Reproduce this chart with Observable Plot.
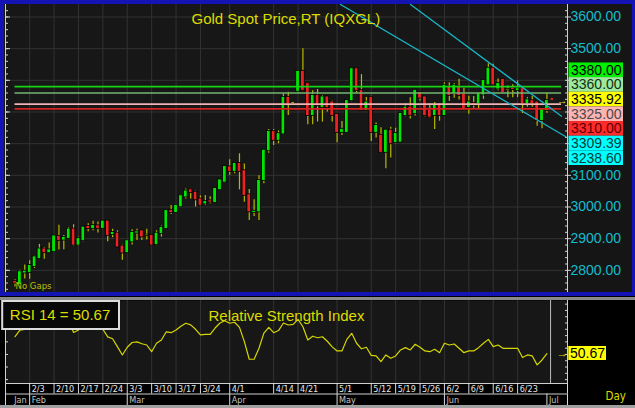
<!DOCTYPE html>
<html><head><meta charset="utf-8">
<script src="https://cdn.jsdelivr.net/npm/d3@7"></script>
<script src="https://cdn.jsdelivr.net/npm/@observablehq/plot@0.6"></script>
<style>
html,body{margin:0;padding:0;background:#000;}
#chart{position:relative;width:635px;height:408px;overflow:hidden;background:#000;}
#chart > div{position:absolute;left:0;}
svg{display:block;}
</style></head><body>
<div id="chart">
  <div id="price" style="top:0"></div>
  <div id="rsi" style="top:296px"></div>
  <div style="top:0;width:635px;height:296px;border:4px solid #1414b4;border-right-width:3px;box-sizing:border-box;"></div>
  <div style="top:297px;width:635px;height:3px;background:#8a8a8a"></div>
  <div style="top:405px;width:635px;height:3px;background:#a0a0a0"></div>
</div>
<script>
// ---------------- data ----------------
const firstDay = "2025-01-29", lastDay = "2025-07-01";
const open  = [2764,2756,2792,2794,2812,2838,2867,2856,2860,2906,2896,2901,2930,2880,2895,2938,2932,2940,2933,2955,2913,2917,2876,2856,2890,2918,2924,2910,2910,2882,2917,2932,2989,2983,3001,3032,3054,3046,3025,3010,3019,3015,3055,3079,3126,3113,3137,3114,3038,2983,2985,3084,3178,3238,3211,3231,3346,3328,3366,3428,3389,3289,3352,3315,3347,3331,3292,3236,3236,3336,3436,3368,3305,3345,3236,3226,3173,3242,3204,3205,3289,3315,3295,3361,3347,3305,3289,3320,3289,3378,3358,3378,3357,3315,3326,3326,3354,3386,3438,3373,3402,3370,3375,3368,3373,3326,3335,3331,3273,3305];
const high  = [2770,2800,2817,2830,2845,2882,2872,2886,2911,2942,2910,2935,2944,2905,2936,2947,2955,2953,2957,2957,2930,2925,2880,2896,2928,2930,2926,2930,2913,2925,2940,2990,3005,3006,3038,3057,3057,3050,3035,3036,3032,3060,3087,3128,3149,3140,3168,3136,3055,3023,3099,3180,3245,3245,3240,3357,3362,3332,3430,3500,3392,3367,3371,3352,3349,3335,3294,3270,3337,3438,3438,3418,3346,3350,3265,3250,3244,3252,3249,3296,3325,3345,3368,3365,3350,3325,3330,3325,3392,3392,3390,3403,3375,3350,3349,3360,3402,3452,3451,3404,3405,3382,3386,3398,3373,3346,3350,3334,3310,3358];
const low   = [2747,2752,2773,2772,2806,2834,2835,2853,2857,2864,2865,2898,2876,2876,2890,2922,2925,2918,2930,2890,2903,2873,2832,2853,2880,2894,2894,2896,2878,2878,2905,2930,2976,2980,2998,3025,3025,3000,3002,3005,3010,3013,3053,3076,3100,3105,3054,3015,2957,2970,2957,3073,3170,3194,3200,3228,3289,3326,3360,3366,3260,3260,3268,3268,3300,3268,3203,3226,3234,3332,3360,3303,3303,3207,3218,3170,3121,3155,3200,3204,3285,3278,3287,3335,3285,3280,3245,3271,3289,3333,3343,3338,3306,3293,3312,3310,3340,3385,3383,3367,3362,3345,3345,3346,3295,3315,3315,3255,3247,3296];
const close = [2760,2795,2797,2815,2842,2867,2856,2864,2908,2895,2903,2930,2880,2900,2936,2932,2941,2933,2955,2911,2919,2874,2855,2893,2919,2921,2906,2911,2880,2917,2935,2988,2983,3004,3035,3050,3046,3023,3006,3017,3016,3058,3085,3127,3113,3137,3113,3037,2985,2986,3083,3179,3238,3211,3231,3346,3326,3330,3428,3369,3289,3352,3320,3347,3315,3289,3236,3245,3336,3436,3368,3305,3331,3236,3257,3173,3242,3200,3232,3295,3315,3290,3368,3344,3289,3284,3320,3289,3384,3352,3384,3352,3310,3331,3322,3357,3399,3438,3386,3389,3362,3371,3371,3373,3326,3338,3326,3273,3310,3336];
const rsi14 = [64.1,69.4,70,72,75,77,75,75,78,75, 76,77,67.5,69.5,73,72,74,72,70,64, 62.5,56,49.6,55.7,59.5,60,58.5,57.5,52.2,58.9, 61.5,68,67.3,69.5,72.5,74.8,73.5,70,65.5,66, 66,71,75,76.8,74.8,75.6,71.5,60.2,46.2,46.2, 54.9,67,71.6,67.3,69,75,73.4,73.9,77.9,72, 61.5,64.5,63.3,64.1,60.5,56,52.8,52.8,62,66.8, 58.9,54.5,55.7,49.3,48.8,44.3,49.6,47,48.8,53.6, 55.4,53.6,58.1,55.7,52.8,52.2,54.1,51.4,58.9,57.5, 58.3,54.9,51.4,52.8,52.8,55.4,58.9,62,56.2,57.5, 54.9,54.9,54.9,54.9,47.5,49.6,48.8,41.7,45.6,50.67];
const weekTicks = ["2/3","2/10","2/17","2/24","3/3","3/10","3/17","3/24","4/1","4/14","4/21","5/1","5/12","5/19","5/26","6/2","6/9","6/16","6/23"];
const monthNames = ["Jan","Feb","Mar","Apr","May","Jun","Jul"];
const priceTicks = [2800,2900,3000,3100,3200,3300,3400,3500,3600];
const priceTickLabels = [2800,2900,3000,3100,3500,3600];
const rsiTicks = [30,40,50,60,70];
const levelValues = [3380, 3360, 3325, 3310];
const levelColors = ["#14d414", "#72b872", "#f0b4b4", "#d42222"];
const sideLabels = ["3380.00","3360.00","3335.92","3325.00","3310.00","3309.39","3238.60"];
const sideFill   = ["#00f000","#9ee89e","#ffff00","#ffb4b4","#ff2a2a","#00ffff","#00ffff"];
const sideInk    = ["#000","#123012","#000","#4a4a4a","#5a0000","#003c3c","#003c3c"];
const upperChannel = {i: [81.05, 112.0], p: [3639.4, 3286.7]};
const lowerChannel = {i: [66.7, 112.8], p: [3639.4, 3222.6]};
const lastPrice = 3335.92, lastRsi = 50.67;
const titleText = "Gold Spot Price,RT (IQXGL)";
const rsiTitle = "Relative Strength Index";
const rsiBoxText = "RSI 14 = 50.67";

// ---------------- setup ----------------
const W = 635;
const SANS = "'Liberation Sans', Arial, sans-serif";
const NARROW = "'Liberation Sans Narrow', 'Arial Narrow', 'DejaVu Sans Condensed', sans-serif";
const YEL = "#dcdc00", CYAN = "#12bccc", GRID = "#323232", AX = "#d0d0d0";

const days = d3.utcDay.range(new Date(firstDay), d3.utcDay.offset(new Date(lastDay), 1))
  .filter(d => d.getUTCDay() !== 0 && d.getUTCDay() !== 6);
const fmt = d3.utcFormat("%-m/%-d");
const idxOf = s => days.findIndex(d => fmt(d) === s);
const n = days.length, lastIdx = n - 1;
const candles = days.map((d, i) => ({i, o: open[i], h: high[i], l: low[i], c: close[i]}));
const weeks = weekTicks.map(t => ({t, i: idxOf(t)}));
const monthStarts = monthNames.map((m, k) => days.findIndex(d => d.getUTCMonth() === k));

const xDomain = [-1.95, 113.22];
const yDomain = [2730, 3639.4];
const rsiDomain = [26.9, 92.9];
const xS = Plot.scale({x: {domain: xDomain, range: [5, 567]}});
const yS = Plot.scale({y: {domain: yDomain, range: [292, 4]}});
const rS = Plot.scale({y: {domain: rsiDomain, range: [87, 4]}});

const bodyColor = d => Math.abs(d.c - d.o) <= 2 ? "#c8c800" : d.c >= d.o ? "#00e600" : "#ec2222";
const levels = levelValues.map((v, k) => ({v, color: levelColors[k]}));
const chan = ch => ch.i.map((i, k) => ({i, p: ch.p[k]}));

// stacked right-hand labels
const boxH = 14.65, boxTop = yS.apply(3380) - 23.7;
const side = sideLabels.map((t, k) => ({
  t, fill: sideFill[k], ink: sideInk[k],
  y1: yS.invert(boxTop + k * boxH), y2: yS.invert(boxTop + (k + 1) * boxH),
  ym: yS.invert(boxTop + (k + 0.5) * boxH)
}));

// ---------------- price panel ----------------
const price = Plot.plot({
  width: W, height: 296,
  marginLeft: 5, marginRight: 68, marginTop: 4, marginBottom: 4,
  style: {background: "#151515", overflow: "visible"},
  x: {domain: xDomain, axis: null},
  y: {domain: yDomain, axis: null},
  color: {type: "identity"},
  marks: [
    Plot.frame({fill: "#171717", stroke: null}),
    Plot.gridY(priceTicks, {stroke: GRID, strokeOpacity: 1}),
    Plot.gridX(weeks.map(d => d.i), {stroke: GRID, strokeOpacity: 1}),
    Plot.ruleX(candles, {x: "i", y1: "l", y2: "h", stroke: "#b8b800", strokeWidth: 1.2}),
    Plot.rect(candles, {x1: d => d.i - 0.37, x2: d => d.i + 0.37,
      y1: d => Math.min(d.o, d.c), y2: d => Math.max(d.o, d.c),
      fill: bodyColor, stroke: "#000", strokeWidth: 0.8, insetTop: -0.6, insetBottom: -0.6}),
    Plot.ruleY(levels, {y: "v", x1: 0, x2: n + 2, stroke: "color", strokeWidth: 1.7}),
    Plot.line(chan(upperChannel), {x: "i", y: "p", stroke: "#18b4c4", strokeWidth: 1.3, clip: true}),
    Plot.line(chan(lowerChannel), {x: "i", y: "p", stroke: "#18b4c4", strokeWidth: 1.3, clip: true}),
    Plot.dot([lastPrice], {x: lastIdx + 1, y: d => d + 5, r: 1.3, fill: "#e02020"}),
    Plot.text(["→"], {x: lastIdx + 2, y: lastPrice, textAnchor: "start", fill: YEL, fontSize: 11, fontWeight: "bold", fontFamily: SANS}),
    // left axis
    Plot.ruleX([xDomain[0]], {stroke: AX}),
    Plot.axisY(d3.range(2740, 3640, 20), {anchor: "left", tickSize: -3, fill: "none", stroke: AX, label: null}),
    Plot.axisY(priceTicks, {anchor: "left", tickSize: -5, fill: "none", stroke: AX, label: null}),
    // right axis
    Plot.ruleX([xDomain[1]], {stroke: AX}),
    Plot.axisY(d3.range(2740, 3640, 20), {anchor: "right", tickSize: -3, fill: "none", stroke: AX, label: null}),
    Plot.axisY(priceTicks, {anchor: "right", tickSize: 3, fill: "none", stroke: AX, label: null}),
    Plot.axisY(priceTickLabels, {anchor: "right", tickSize: 0, tickPadding: 3, fill: CYAN, fontSize: 14,
      fontFamily: SANS, tickFormat: d => d.toFixed(2), textAnchor: "start", label: null}),
    // stacked value labels
    Plot.rect(side, {x1: xS.invert(568.5), x2: xS.invert(623), y1: "y1", y2: "y2", fill: "fill"}),
    Plot.text(side, {x: xS.invert(570.5), y: "ym", text: "t", fill: "ink", textAnchor: "start", fontSize: 14, fontFamily: SANS}),
    // titles
    Plot.text([titleText], {frameAnchor: "top-left", dx: 186, dy: 8.5, textAnchor: "start", fill: YEL, fontSize: 15, fontFamily: SANS}),
    Plot.text(["No Gaps"], {frameAnchor: "bottom-left", dx: 10, dy: -3.5, textAnchor: "start", fill: "#c0c000", fontSize: 9.5, fontFamily: NARROW})
  ]
});
document.getElementById("price").appendChild(price);

// ---------------- RSI panel ----------------
const rowMid = rS.invert(97.5), rowBot = rS.invert(109);
const monthSeps = monthStarts.slice(1);
const rsiData = rsi14.map((v, i) => ({i, v}));
const rsiPlot = Plot.plot({
  width: W, height: 112,
  marginLeft: 5, marginRight: 68, marginTop: 4, marginBottom: 25,
  style: {background: "transparent", overflow: "visible"},
  x: {domain: xDomain, axis: null},
  y: {domain: rsiDomain, axis: null},
  marks: [
    Plot.frame({fill: "#171717", stroke: null}),
    Plot.gridX(weeks.map(d => d.i), {stroke: GRID, strokeOpacity: 1}),
    Plot.line(rsiData, {x: "i", y: "v", stroke: "#d6d600", strokeWidth: 1.2}),
    Plot.ruleX([lastIdx + 0.75], {stroke: "#bdbdbd"}),
    Plot.text(["→"], {x: lastIdx + 2, y: lastRsi, textAnchor: "start", fill: YEL, fontSize: 11, fontWeight: "bold", fontFamily: SANS}),
    // axes
    Plot.ruleX([xDomain[0]], {y1: rowBot, y2: rsiDomain[1], stroke: AX}),
    Plot.axisY(rsiTicks, {anchor: "left", tickSize: -3, fill: "none", stroke: AX, label: null}),
    Plot.ruleX([xDomain[1]], {stroke: AX}),
    Plot.axisY(d3.range(30, 91, 5), {anchor: "right", tickSize: -3, fill: "none", stroke: AX, label: null}),
    // value label
    Plot.rect([lastRsi], {x1: xS.invert(568.3), x2: xS.invert(606), y1: rS.invert(50), y2: rS.invert(64), fill: "#ffff00"}),
    Plot.text([lastRsi], {x: xS.invert(569.5), y: d => d, text: d => d.toFixed(2), textAnchor: "start", fill: "#000", fontSize: 14, fontFamily: SANS}),
    Plot.text(["Day"], {x: xS.invert(605), y: rS.invert(100), textAnchor: "start", fill: YEL, fontSize: 11.5, fontFamily: NARROW}),
    // titles
    Plot.text([rsiTitle], {frameAnchor: "top-left", dx: 203, dy: 10, textAnchor: "start", fill: YEL, fontSize: 15, fontFamily: SANS}),
    Plot.rect([rsiBoxText], {x1: xS.invert(2.2), x2: xS.invert(119), y1: rS.invert(5), y2: rS.invert(33), fill: "#080808", stroke: "#dcdcdc", strokeWidth: 2}),
    Plot.text([rsiBoxText], {x: xS.invert(9.3), y: rS.invert(18.5), textAnchor: "start", fill: YEL, fontSize: 15, fontFamily: SANS}),
    // date rows
    Plot.ruleY([rsiDomain[0], rowMid, rowBot], {stroke: "#cfcfcf"}),
    Plot.ruleX([...weeks.map(d => d.i), xDomain[1]], {y1: rsiDomain[0], y2: rowMid, stroke: "#d8d8d8"}),
    Plot.ruleX([...monthSeps, xDomain[1]], {y1: rowMid, y2: rowBot, stroke: "#d8d8d8"}),
    Plot.text(weeks, {x: "i", y: rS.invert(92.5), text: "t", dx: 2, textAnchor: "start", fill: "#e6e6e6", fontSize: 9, fontFamily: NARROW}),
    Plot.text(monthNames.slice(1), {x: (d, k) => monthStarts[k + 1], y: rS.invert(103.5), dx: 2, textAnchor: "start", fill: "#c4c4c4", fontSize: 9, fontFamily: NARROW}),
    Plot.text(monthNames.slice(0, 1), {x: monthStarts[1], y: rS.invert(103.5), dx: -3, textAnchor: "end", fill: "#c4c4c4", fontSize: 9, fontFamily: NARROW})
  ]
});
document.getElementById("rsi").appendChild(rsiPlot);
</script>
</body></html>
